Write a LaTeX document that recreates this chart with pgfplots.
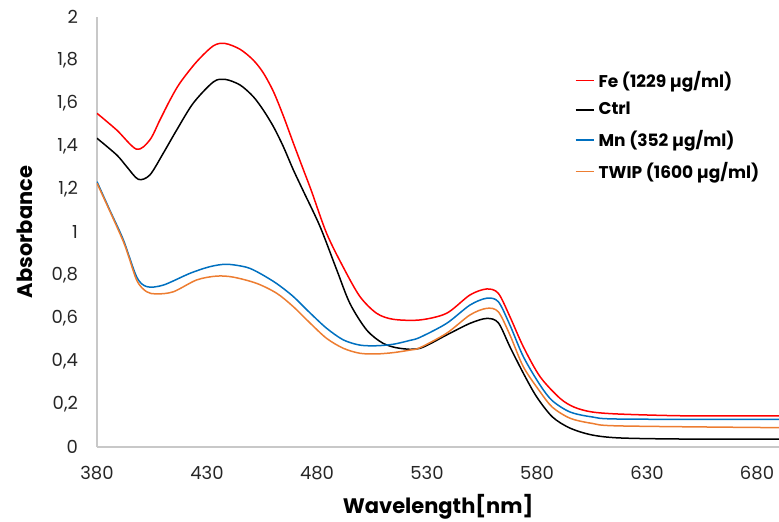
\documentclass[border=0pt]{standalone}
\usepackage{fontspec}
\setmainfont{Poppins}
\usepackage{pgfplots}
\pgfplotsset{compat=1.18}

\definecolor{fered}{RGB}{255,0,0}
\definecolor{mnblue}{RGB}{0,112,192}
\definecolor{twiporange}{RGB}{237,125,49}
\definecolor{axgray}{RGB}{200,200,200}

\begin{document}
\begin{tikzpicture}
\begin{axis}[
    scale only axis,
    width=341pt, height=215pt,
    xmin=380, xmax=690,
    ymin=0, ymax=2,
    xtick={380,430,480,530,580,630,680},
    ytick={0,0.2,0.4,0.6,0.8,1,1.2,1.4,1.6,1.8,2},
    /pgf/number format/use comma,
    /pgf/number format/assume math mode=true,
    tick label style={font=\fontsize{9}{10}\selectfont, text=black!85},
    xticklabel style={yshift=-6pt},
    yticklabel style={xshift=-6pt},
    major tick length=0pt,
    axis x line*=bottom,
    axis y line*=left,
    axis line style={draw=axgray, line width=0.6pt},
    xlabel={\textbf{Wavelength[nm]}},
    ylabel={\textbf{Absorbance}},
    label style={font=\fontsize{10.5}{12}\selectfont},
    xlabel style={at={(axis description cs:0.5,-0.140)}, anchor=center},
    ylabel style={at={(axis description cs:-0.106,0.5)}, anchor=center},
    legend style={at={(axis description cs:0.70,0.885)}, anchor=north west,
        draw=none, fill=none, font=\fontsize{8.5}{10}\selectfont\bfseries,
        row sep=2.2pt, inner sep=0pt},
    legend cell align=left,
    legend image code/.code={\draw[#1, line width=0.9pt] (0pt,0pt) -- (9pt,0pt);},
    every axis plot/.append style={line width=0.75pt, smooth, tension=0.5},
]
\addplot[fered] coordinates {
(380,1.552) (389,1.474) (398,1.385) (404,1.428) (408.6,1.521) (413.2,1.614)
(417.7,1.693) (425.3,1.792) (432.9,1.866) (438.2,1.877) (445,1.850) (451,1.80)
(455.6,1.740) (460.2,1.653) (464.7,1.540) (469.2,1.415) (473.8,1.290) (477.5,1.19)
(484.4,0.993) (492,0.835) (499.5,0.70) (507.1,0.622) (514.7,0.594) (526.8,0.591)
(538.9,0.622) (549.5,0.707) (557.1,0.735) (562.4,0.715) (567.7,0.606) (573.8,0.466)
(581.4,0.327) (590.5,0.226) (597,0.185) (605,0.163) (618,0.153) (648,0.145) (690,0.145)};
\addlegendentry{Fe (1229 µg/ml)}
\addplot[black] coordinates {
(380,1.436) (389,1.358) (393.5,1.304) (398.8,1.245) (404,1.265) (410.1,1.366)
(416.2,1.474) (423.8,1.60) (432.9,1.698) (438.2,1.71) (445,1.684) (451,1.63)
(455.6,1.567) (460.2,1.49) (464.7,1.397) (469.2,1.29) (473.8,1.19) (481.4,1.025)
(489,0.823) (495,0.667) (502.6,0.544) (510.1,0.482) (517.7,0.459) (526.8,0.459)
(538.9,0.521) (549.5,0.575) (557.1,0.598) (562.4,0.578) (567.7,0.466) (573.8,0.343)
(579.8,0.234) (587,0.14) (595,0.088) (605,0.056) (618,0.042) (648,0.037) (690,0.037)};
\addlegendentry{Ctrl}
\addplot[mnblue] coordinates {
(380,1.234) (385.9,1.10) (392,0.963) (398,0.792) (402.6,0.746) (410.1,0.753)
(422.3,0.808) (431.4,0.839) (439,0.85) (448,0.836) (454,0.808) (461.7,0.76)
(469.2,0.70) (476.8,0.624) (484.4,0.552) (492,0.498) (499.5,0.474) (507.1,0.471)
(514.7,0.478) (522.3,0.496) (526.8,0.510) (538.9,0.575) (549.5,0.66) (557.1,0.692)
(562.4,0.676) (567.7,0.567) (573.8,0.42) (581.4,0.288) (587,0.215) (595,0.163)
(605,0.14) (618,0.13) (690,0.128)};
\addlegendentry{Mn (352 µg/ml)}
\addplot[twiporange] coordinates {
(380,1.227) (392,0.955) (398,0.777) (402.6,0.722) (407.1,0.712) (414.7,0.722)
(425.3,0.777) (434.4,0.795) (442,0.790) (452.6,0.761) (461.7,0.715) (469.2,0.653)
(476.8,0.577) (484.4,0.505) (492,0.459) (499.5,0.436) (507.1,0.433) (514.7,0.439)
(522.3,0.451) (526.8,0.462) (538.9,0.529) (549.5,0.614) (557.1,0.645) (562.4,0.629)
(567.7,0.521) (573.8,0.373) (581.4,0.257) (587,0.185) (595,0.134) (605,0.11)
(618,0.098) (690,0.09)};
\addlegendentry{TWIP (1600 µg/ml)}
\end{axis}
\pgfresetboundingbox
\path (current axis.south west) ++(-48.5pt,-37pt) coordinate (bbA);
\path (current axis.north east) ++(0pt,8.5pt) coordinate (bbB);
\path (bbA) rectangle (bbB);
\end{tikzpicture}
\end{document}
